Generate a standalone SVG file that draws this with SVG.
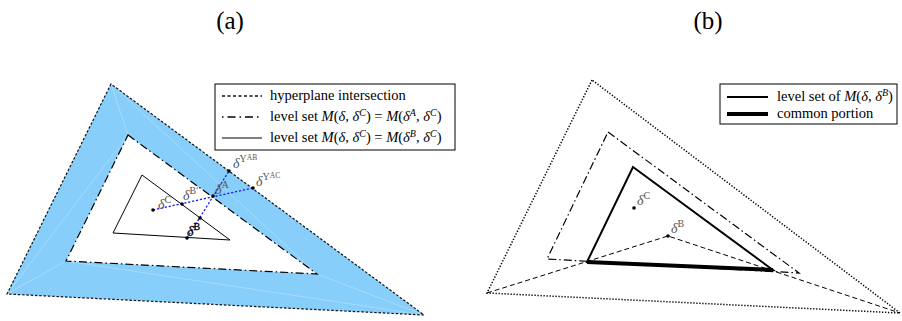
<svg xmlns="http://www.w3.org/2000/svg" width="902" height="321" viewBox="0 0 902 321">
<style>
text{font-family:"Liberation Serif","DejaVu Serif",serif;fill:#000}
.title{font-size:25px;text-anchor:middle}
.lg{font-size:14.5px}
.it{font-style:italic}
.lbl{font-size:14px;fill:#555}
.lbl .d{font-style:italic}
.lg .sup{font-size:10px}
.lbl .sup{font-size:10px}
.sup2{font-size:7.5px}
.box{fill:#fff;stroke:#000;stroke-width:1}
.hyp{fill:none;stroke:#111;stroke-width:1.2;stroke-dasharray:2.5 1.8}
.dd{fill:none;stroke:#000;stroke-width:1.2;stroke-dasharray:8 3 1.5 3}
.thin{fill:none;stroke:#000;stroke-width:1}
.blue{fill:none;stroke:#1a1aff;stroke-width:1.3;stroke-dasharray:2.2 1.8}
.seam{stroke:#fff;stroke-opacity:0.45;stroke-width:0.6;fill:none}
.dot{fill:#000}
.dotted{fill:none;stroke:#000;stroke-width:1.5;stroke-dasharray:1.3 1.7}
.dash{fill:none;stroke:#000;stroke-width:1;stroke-dasharray:5 3}
.bold{fill:none;stroke:#000;stroke-width:2;stroke-linejoin:miter}
.common{fill:none;stroke:#000;stroke-width:4}
</style>

<text class="title" x="230" y="29">(a)</text>
<text class="title" x="708" y="29">(b)</text>

<!-- Panel (a) -->
<g id="band-a">
  <path d="M111,84 L7,294 L424,315 Z M128,135 L317,274 L66,261 Z" fill="#87cefa" fill-rule="evenodd"/>
  <path class="seam" d="M111,84 L128,135 M7,294 L66,261 M424,315 L317,274 M7,294 L128,135 M66,261 L424,315 M111,84 L317,274"/>
</g>
<g id="hyperplane-a">
  <path class="hyp" d="M111,84 L7,294 L424,315 Z"/>
</g>
<g id="levelA-a">
  <path class="dd" d="M128,135 L317,274 L66,261 Z"/>
</g>
<g id="levelB-a">
  <path class="thin" d="M142,175 L230,240 L113,233 Z"/>
</g>
<g id="connectors-a">
  <line class="blue" x1="153" y1="210" x2="253" y2="188"/>
  <line class="blue" x1="187" y1="238" x2="229" y2="171"/>
</g>
<g id="points-a">
  <g id="pC-a"><circle class="dot" cx="153" cy="210" r="1.8"/>
    <text class="lbl" x="158" y="209"><tspan class="d">δ</tspan><tspan class="sup" dy="-6">C</tspan></text></g>
  <g id="pBp-a"><circle class="dot" cx="182" cy="204" r="1.8"/>
    <text class="lbl" x="183" y="200"><tspan class="d">δ</tspan><tspan class="sup" dy="-6">B′</tspan></text></g>
  <g id="pA-a"><circle class="dot" cx="213" cy="196" r="1.8"/>
    <text class="lbl" x="215" y="194"><tspan class="d">δ</tspan><tspan class="sup" dy="-6">A</tspan></text></g>
  <g id="pYAB-a"><circle class="dot" cx="229" cy="171" r="1.8"/>
    <text class="lbl" x="233" y="168"><tspan class="d">δ</tspan><tspan class="sup" dy="-6">Y</tspan><tspan class="sup2" dy="-2">AB</tspan></text></g>
  <g id="pYAC-a"><circle class="dot" cx="253" cy="188" r="1.8"/>
    <text class="lbl" x="256" y="186"><tspan class="d">δ</tspan><tspan class="sup" dy="-6">Y</tspan><tspan class="sup2" dy="-2">AC</tspan></text></g>
  <g id="pE-a"><circle class="dot" cx="200" cy="218" r="1.8"/></g>
  <g id="pB-a"><circle class="dot" cx="187" cy="238" r="1.8"/>
    <text class="lbl" x="187" y="236" style="fill:#000;stroke:#000;stroke-width:0.3"><tspan class="d">δ</tspan><tspan class="sup" dy="-6">B</tspan></text></g>
</g>

<g id="legend-a">
  <rect class="box" x="215" y="84" width="240" height="66"/>
  <line class="hyp" x1="222" y1="96" x2="262" y2="96" style="stroke-dasharray:3 2.5;stroke-width:1.3"/>
  <text class="lg" x="270" y="100">hyperplane intersection</text>
  <line class="dd" x1="222" y1="117" x2="262" y2="117" style="stroke-dasharray:1.5 4 8 4;stroke-width:1.3"/>
  <text class="lg" x="270" y="121">level set <tspan class="it">M</tspan>(<tspan class="it">δ</tspan>, <tspan class="it">δ</tspan><tspan class="it sup" dy="-5">C</tspan><tspan dy="5">) = </tspan><tspan class="it">M</tspan>(<tspan class="it">δ</tspan><tspan class="it sup" dy="-5">A</tspan><tspan dy="5">, </tspan><tspan class="it">δ</tspan><tspan class="it sup" dy="-5">C</tspan><tspan dy="5">)</tspan></text>
  <line class="thin" x1="222" y1="138" x2="262" y2="138"/>
  <text class="lg" x="270" y="142">level set <tspan class="it">M</tspan>(<tspan class="it">δ</tspan>, <tspan class="it">δ</tspan><tspan class="it sup" dy="-5">C</tspan><tspan dy="5">) = </tspan><tspan class="it">M</tspan>(<tspan class="it">δ</tspan><tspan class="it sup" dy="-5">B</tspan><tspan dy="5">, </tspan><tspan class="it">δ</tspan><tspan class="it sup" dy="-5">C</tspan><tspan dy="5">)</tspan></text>
</g>

<!-- Panel (b) -->
<g id="hyperplane-b">
  <path class="dotted" d="M592,80 L487,293 L900,313 Z"/>
</g>
<g id="levelA-b">
  <path class="dd" d="M608,132 L799,273 L547,259 Z"/>
</g>
<g id="connectors-b">
  <polyline class="dash" points="487,293 668,236 900,313"/>
</g>
<g id="levelB-b">
  <path class="bold" d="M633,167 L773,270 L587,262 Z"/>
  <line class="common" x1="587" y1="262" x2="773" y2="270"/>
</g>
<g id="points-b">
  <g id="pC-b"><circle class="dot" cx="634" cy="208" r="1.8"/>
    <text class="lbl" x="637" y="205"><tspan class="d">δ</tspan><tspan class="sup" dy="-6">C</tspan></text></g>
  <g id="pB-b"><circle class="dot" cx="668" cy="236" r="1.8"/>
    <text class="lbl" x="671" y="233"><tspan class="d">δ</tspan><tspan class="sup" dy="-6">B</tspan></text></g>
</g>

<g id="legend-b">
  <rect class="box" x="720" y="84" width="177" height="40"/>
  <line x1="727" y1="97" x2="768" y2="97" stroke="#000" stroke-width="2"/>
  <text class="lg" x="777" y="101">level set of <tspan class="it">M</tspan>(<tspan class="it">δ</tspan>, <tspan class="it">δ</tspan><tspan class="it sup" dy="-5">B</tspan><tspan dy="5">)</tspan></text>
  <line x1="727" y1="114" x2="768" y2="114" stroke="#000" stroke-width="4"/>
  <text class="lg" x="777" y="118">common portion</text>
</g>
</svg>
